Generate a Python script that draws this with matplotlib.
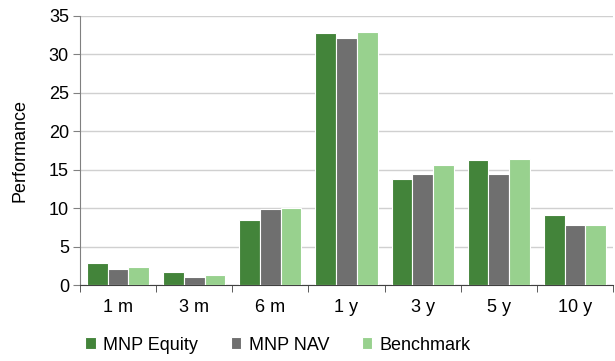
import matplotlib
matplotlib.use("Agg")
import matplotlib.pyplot as plt
import numpy as np

categories = ["1 m", "3 m", "6 m", "1 y", "3 y", "5 y", "10 y"]
mnp_equity = [2.9, 1.65, 8.4, 32.8, 13.8, 16.3, 9.1]
mnp_nav = [2.1, 1.0, 9.95, 32.2, 14.4, 14.4, 7.8]
benchmark = [2.4, 1.35, 10.05, 32.95, 15.65, 16.4, 7.75]
series_names = ["MNP Equity", "MNP NAV", "Benchmark"]
colors = ["#43843A", "#6F6F6F", "#98D18E"]

plt.rcParams["font.family"] = ["Liberation Sans", "DejaVu Sans"]

fig = plt.figure(figsize=(6.15, 3.61), dpi=100)
ax = fig.add_axes([80/615, 1-285/361, 533/615, 269/361])

x = np.arange(len(categories))
w = 0.272
for i, (vals, name, c) in enumerate(zip([mnp_equity, mnp_nav, benchmark], series_names, colors)):
    ax.bar(x + (i-1)*w, vals, width=w, color=c, edgecolor="white", linewidth=0.8, label=name, zorder=3)

ax.set_xlim(-0.5, len(categories)-0.5)
ax.set_ylim(0, 35)
ax.set_yticks(range(0, 36, 5))
ax.yaxis.grid(True, color="#D0D0D0", linewidth=1.0, zorder=0)
ax.set_axisbelow(True)
for s in ["top", "right"]:
    ax.spines[s].set_visible(False)
ax.spines["left"].set_color("#808080")
ax.spines["bottom"].set_color("#404040")
ax.set_xticks(x)
ax.set_xticklabels(categories)
ax.set_xticks(np.arange(-0.5, len(categories)), minor=True)
ax.tick_params(axis="x", which="major", length=0, labelsize=13, pad=10)
ax.tick_params(axis="x", which="minor", length=5, direction="out", color="#404040")
ax.tick_params(axis="y", length=5, direction="out", color="#808080", labelsize=13, pad=3)
ax.set_ylabel("Performance", fontsize=13)
ax.yaxis.set_label_coords(-52/533, 0.5)

fig.legend(loc="center", bbox_to_anchor=(278/615, 1-345/361), ncol=3, frameon=False,
           fontsize=13, handlelength=0.6, handleheight=0.6, handletextpad=0.4, columnspacing=1.8)
fig.savefig("out.png", dpi=100)
